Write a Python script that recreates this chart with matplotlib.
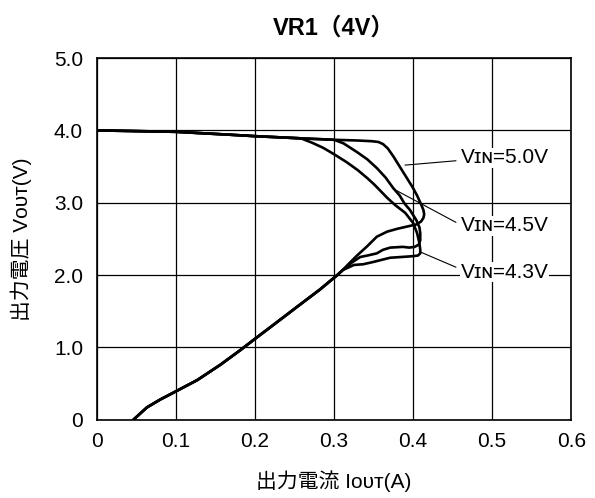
import matplotlib.pyplot as plt

plt.rcParams['font.family'] = ['Liberation Sans', 'DejaVu Sans', 'Noto Sans CJK JP']

# regulated part, the same for every input voltage
flat_i = [0.0, 0.10, 0.168, 0.20, 0.258]
flat_v = [4.00, 3.98, 3.94, 3.92, 3.89]

# foldback part, the same for every input voltage
low_i = [0.311, 0.304, 0.282, 0.253, 0.223, 0.200, 0.181, 0.156, 0.127, 0.101,
         0.080, 0.063, 0.046]
low_v = [2.07, 2.00, 1.80, 1.56, 1.31, 1.12, 0.96, 0.76, 0.55, 0.40,
         0.28, 0.17, 0.0]

# VIN = 5.0V
i50 = [0.300, 0.330, 0.348, 0.356, 0.362, 0.368, 0.375, 0.383, 0.391, 0.399,
       0.405, 0.410, 0.413, 0.414, 0.413, 0.410, 0.404, 0.392, 0.380, 0.367,
       0.354, 0.342, 0.329, 0.318]
v50 = [3.87, 3.86, 3.85, 3.84, 3.81, 3.75, 3.64, 3.50, 3.36, 3.22,
       3.10, 2.98, 2.90, 2.84, 2.79, 2.74, 2.70, 2.67, 2.64, 2.60,
       2.53, 2.40, 2.27, 2.15]

# VIN = 4.5V
i45 = [0.300, 0.312, 0.329, 0.342, 0.354, 0.365, 0.375, 0.383, 0.389, 0.396,
       0.404, 0.408, 0.409, 0.409, 0.407, 0.402, 0.395, 0.387, 0.371, 0.362,
       0.354, 0.342, 0.333, 0.322]
v45 = [3.87, 3.82, 3.70, 3.60, 3.48, 3.35, 3.20, 3.10, 2.99, 2.90,
       2.76, 2.66, 2.58, 2.48, 2.42, 2.39, 2.38, 2.39, 2.38, 2.35,
       2.30, 2.27, 2.25, 2.17]

# VIN = 4.3V
i43 = [0.272, 0.286, 0.300, 0.316, 0.330, 0.342, 0.351, 0.359, 0.367, 0.377,
       0.390, 0.400, 0.405, 0.408, 0.409, 0.409, 0.406, 0.398, 0.385,
       0.371, 0.360, 0.349, 0.337, 0.325]
v43 = [3.83, 3.76, 3.67, 3.56, 3.45, 3.34, 3.25, 3.16, 3.07, 2.97,
       2.86, 2.72, 2.58, 2.44, 2.35, 2.30, 2.27, 2.26, 2.25,
       2.24, 2.21, 2.18, 2.15, 2.14]

labels = ['Vɪɴ=5.0V', 'Vɪɴ=4.5V', 'Vɪɴ=4.3V']
leader_from = [(0.390, 3.52), (0.377, 3.18), (0.409, 2.32)]
leader_to = [(0.454, 3.58), (0.454, 2.73), (0.454, 2.11)]
label_at = [(0.460, 3.62), (0.460, 2.68), (0.460, 2.04)]

xticks = [0, 0.1, 0.2, 0.3, 0.4, 0.5, 0.6]
xticklabels = ['0', '0.1', '0.2', '0.3', '0.4', '0.5', '0.6']
yticks = [0, 1, 2, 3, 4, 5]
yticklabels = ['0', '1.0', '2.0', '3.0', '4.0', '5.0']

fig = plt.figure(figsize=(5.95, 4.98), dpi=100)
ax = fig.add_axes([0.163, 0.157, 0.797, 0.7265])

for ci, cv in [(i50, v50), (i45, v45), (i43, v43)]:
    ax.plot(flat_i + ci + low_i, flat_v + cv + low_v, color='black', lw=1.9,
            solid_joinstyle='round', solid_capstyle='round', zorder=3)

for txt, p0, p1, pt in zip(labels, leader_from, leader_to, label_at):
    ax.plot([p0[0], p1[0]], [p0[1], p1[1]], color='black', lw=0.8, zorder=4)
    ax.text(pt[0], pt[1], txt, fontsize=15, va='center', ha='left', zorder=5,
            bbox=dict(facecolor='white', edgecolor='none', pad=0.5))

ax.set_xlim(0, 0.6)
ax.set_ylim(0, 5)
ax.set_xticks(xticks)
ax.set_xticklabels(xticklabels)
ax.set_yticks(yticks)
ax.set_yticklabels(yticklabels)
ax.tick_params(length=0, labelsize=15)
ax.tick_params(axis='x', pad=9)
ax.tick_params(axis='y', pad=10)
ax.grid(True, color='black', lw=0.9)
ax.set_axisbelow(True)
for s in ax.spines.values():
    s.set_linewidth(1.2)

ax.set_title('VR1（4V）', fontsize=17, fontweight='bold', pad=17)
ax.set_xlabel('出力電流 Iᴏᴜᴛ(A)', fontsize=15, labelpad=14)
ax.set_ylabel('出力電圧 Vᴏᴜᴛ(V)', fontsize=15, labelpad=16)

fig.savefig('out.png', dpi=100)
